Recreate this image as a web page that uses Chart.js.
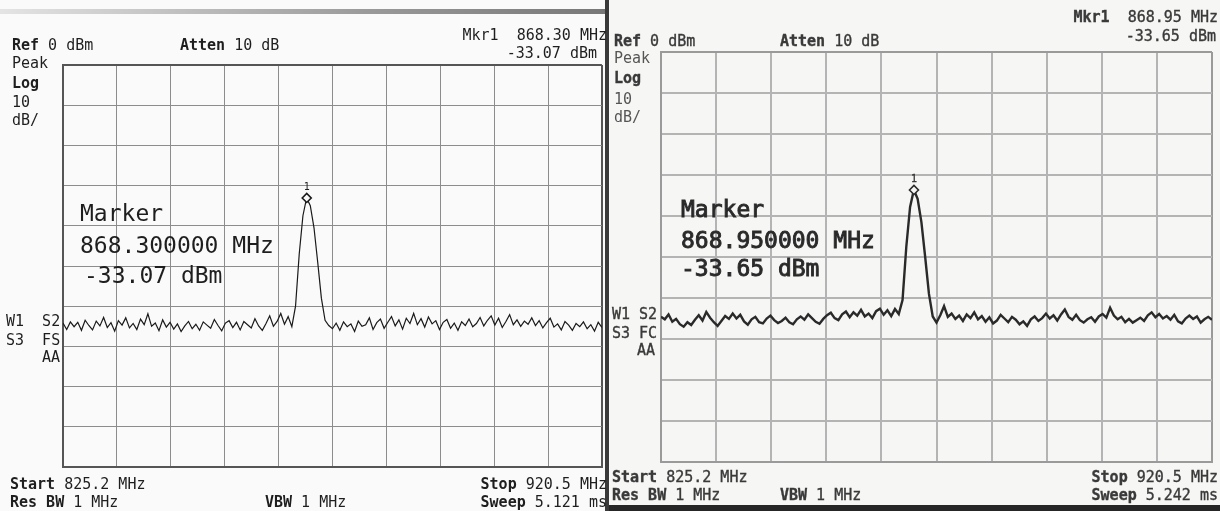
<!DOCTYPE html>
<html>
<head>
<meta charset="utf-8">
<script src="https://cdn.jsdelivr.net/npm/chart.js@4.4.0/dist/chart.umd.min.js"></script>
<style>
  html, body { margin:0; padding:0; background:#fff; }
  #wrap { position:relative; width:1220px; height:511px; overflow:hidden; background:#fafafa;
          font-family:"DejaVu Sans Mono", monospace; }
  .pane { position:absolute; top:0; height:511px; }
  #paneL { left:0; width:608px; background:#fafafa; }
  #paneR { left:610px; width:610px; background:#f6f6f5; }
  canvas { position:absolute; left:0; top:0; }
  .t { position:absolute; white-space:pre; font-size:15px; line-height:1; transform:translateY(-50%); color:#1e1e1e; }
  .tr { color:#3a3a3a; -webkit-text-stroke:0.35px #3a3a3a; }
  .big { font-size:23px; }
  .tr.big { -webkit-text-stroke:0.9px #2a2a2a; color:#2a2a2a; }
  .mk { font-size:10px; transform:translate(-50%,-50%); }
</style>
</head>
<body>
<div id="wrap">
  <div class="pane" id="paneL"><canvas id="chartL" width="608" height="511"></canvas></div>
  <div class="pane" id="paneR"><canvas id="chartR" width="610" height="511"></canvas></div>

  <!-- photo edges -->
  <div style="position:absolute;left:0;top:9px;width:608px;height:5px;background:linear-gradient(to right,#e4e4e4,#9a9a9a 60%,#777);"></div>
  <div style="position:absolute;left:605px;top:0;width:4px;height:511px;background:#3a3a3a;"></div>
  <div style="position:absolute;left:609px;top:505px;width:611px;height:6px;background:#262626;"></div>

  <!-- left screen texts -->
  <div class="t" style="right:613px;top:35px;">Mkr1  868.30 MHz</div>
  <div class="t" style="right:623px;top:53px;">-33.07 dBm</div>
  <div class="t" style="left:12px;top:45px;"><b>Ref</b> 0 dBm</div>
  <div class="t" style="left:180px;top:45px;"><b>Atten</b> 10 dB</div>
  <div class="t" style="left:12px;top:63px;">Peak</div>
  <div class="t" style="left:12px;top:83px;"><b>Log</b></div>
  <div class="t" style="left:12px;top:102px;">10</div>
  <div class="t" style="left:12px;top:120px;">dB/</div>
  <div class="t" style="left:6px;top:321px;">W1  S2</div>
  <div class="t" style="left:6px;top:340px;">S3  FS</div>
  <div class="t" style="left:42px;top:357px;">AA</div>
  <div class="t big" style="left:80px;top:213px;">Marker</div>
  <div class="t big" style="left:80px;top:245px;">868.300000 MHz</div>
  <div class="t big" style="left:84px;top:275px;">-33.07 dBm</div>
  <div class="t" style="left:10px;top:484px;"><b>Start</b> 825.2 MHz</div>
  <div class="t" style="right:613px;top:484px;"><b>Stop</b> 920.5 MHz</div>
  <div class="t" style="left:10px;top:502px;"><b>Res BW</b> 1 MHz</div>
  <div class="t" style="left:265px;top:502px;"><b>VBW</b> 1 MHz</div>
  <div class="t" style="right:613px;top:502px;"><b>Sweep</b> 5.121 ms</div>
  <div class="t mk" id="mkL">1</div>

  <!-- right screen texts -->
  <div class="t tr" style="right:2px;top:17px;"><b>Mkr1</b>  868.95 MHz</div>
  <div class="t tr" style="right:4px;top:36px;">-33.65 dBm</div>
  <div class="t tr" style="left:614px;top:41px;"><b>Ref</b> 0 dBm</div>
  <div class="t tr" style="left:780px;top:41px;"><b>Atten</b> 10 dB</div>
  <div class="t" style="left:614px;top:58px;color:#555;">Peak</div>
  <div class="t tr" style="left:614px;top:78px;"><b>Log</b></div>
  <div class="t" style="left:614px;top:99px;color:#555;">10</div>
  <div class="t" style="left:614px;top:117px;color:#555;">dB/</div>
  <div class="t tr" style="left:612px;top:314px;">W1 S2</div>
  <div class="t tr" style="left:612px;top:333px;">S3 FC</div>
  <div class="t tr" style="left:637px;top:350px;">AA</div>
  <div class="t tr big" style="left:681px;top:209px;">Marker</div>
  <div class="t tr big" style="left:681px;top:240px;">868.950000 MHz</div>
  <div class="t tr big" style="left:681px;top:268px;">-33.65 dBm</div>
  <div class="t tr" style="left:612px;top:477px;"><b>Start</b> 825.2 MHz</div>
  <div class="t tr" style="right:2px;top:477px;"><b>Stop</b> 920.5 MHz</div>
  <div class="t tr" style="left:612px;top:495px;"><b>Res BW</b> 1 MHz</div>
  <div class="t tr" style="left:780px;top:495px;"><b>VBW</b> 1 MHz</div>
  <div class="t tr" style="right:2px;top:495px;"><b>Sweep</b> 5.242 ms</div>
  <div class="t tr mk" id="mkR">1</div>
</div>

<script>
// sweep settings (both screens)
var startMHz = 825.2;
var stopMHz = 920.5;
var refDbm = 0;
var dbPerDiv = 10;
var divisions = 10;

// trace levels in dBm, evenly spaced sweep points
var traceLeft = [
  -64.2,-65.8,-63.9,-65.1,-64.0,-66.0,-63.5,-64.8,-65.9,-63.7,
  -64.9,-62.8,-65.3,-64.1,-66.2,-63.6,-64.7,-62.9,-65.4,-64.3,
  -65.8,-63.2,-64.6,-61.9,-65.0,-64.2,-66.1,-63.4,-65.2,-64.0,
  -65.7,-64.4,-66.3,-64.9,-63.8,-65.6,-64.5,-66.0,-63.9,-64.7,
  -65.5,-63.3,-64.8,-66.1,-64.2,-63.6,-65.3,-64.0,-65.9,-63.8,
  -64.6,-65.4,-63.1,-64.9,-66.0,-64.3,-62.4,-65.0,-63.8,-61.8,
  -64.5,-62.6,-65.1,
  -60.0,-47.0,-37.5,-33.07,-35.0,-40.5,-49.0,-58.0,-63.5,
  -64.8,-65.6,-64.2,-66.0,-63.9,-65.1,-64.4,-66.3,
  -63.7,-65.0,-64.6,-62.9,-65.8,-64.1,-63.2,-65.5,-64.0,-62.6,
  -64.9,-63.4,-65.7,-63.0,-64.3,-61.8,-64.6,-63.1,-65.2,-62.7,
  -64.4,-63.6,-65.8,-64.0,-63.3,-65.5,-64.2,-66.0,-63.9,-64.8,
  -63.2,-65.1,-64.3,-62.8,-64.9,-63.5,-62.4,-64.7,-63.0,-65.3,
  -63.8,-62.1,-64.6,-63.4,-65.0,-63.7,-64.5,-62.9,-64.8,-63.6,
  -65.4,-64.1,-63.0,-65.2,-64.4,-65.9,-63.8,-64.7,-66.0,-64.3,
  -65.1,-63.9,-65.6,-64.6,-66.2,-64.0,-65.3
];

var traceRight = [
  -64.6,-65.2,-64.0,-65.8,-65.1,-66.4,-67.0,-65.9,-66.6,-65.3,
  -64.2,-65.5,-63.4,-64.8,-65.9,-66.8,-65.6,-64.4,-65.1,-63.8,
  -65.0,-64.1,-65.7,-66.5,-65.2,-64.6,-65.9,-66.2,-65.0,-64.3,
  -65.4,-66.1,-65.6,-64.8,-65.9,-66.4,-65.2,-64.5,-65.3,-64.0,
  -64.9,-65.8,-66.3,-65.1,-64.2,-63.6,-64.9,-65.4,-64.0,-63.3,
  -64.7,-63.5,-64.3,-62.9,-64.5,-63.8,-64.9,-63.2,-62.6,-64.1,
  -63.0,-64.4,-62.7,-63.9,
  -60.5,-47.5,-37.8,-33.65,-35.8,-41.5,-50.0,-59.0,-64.5,
  -66.0,-64.2,-62.0,-64.6,-63.8,-65.1,-64.3,
  -65.6,-64.0,-64.9,-63.5,-65.2,-64.4,-65.8,-64.7,-66.2,-65.5,
  -64.1,-65.0,-65.9,-64.6,-65.3,-66.4,-65.7,-66.8,-65.2,-64.5,
  -65.6,-64.9,-63.8,-65.0,-64.2,-65.5,-64.0,-62.8,-64.6,-65.3,
  -64.1,-65.4,-66.0,-65.2,-64.7,-65.8,-64.5,-63.9,-64.8,-62.4,
  -64.3,-65.2,-64.6,-65.9,-65.1,-66.0,-65.4,-64.8,-65.6,-64.2,
  -63.5,-64.7,-63.9,-65.0,-64.4,-65.3,-64.1,-65.7,-66.2,-65.0,
  -64.3,-65.1,-64.5,-66.0,-65.2,-64.6,-65.3
];

// marker 1 readouts
var markerFreqs = [868.30, 868.95];
var markerLevels = [-33.07, -33.65];

function sweepPoints(levels) {
  var step = (stopMHz - startMHz) / (levels.length - 1);
  return levels.map(function (v, i) { return { x: startMHz + i * step, y: v }; });
}

function drawScreen(id, levels, mIdx, look) {
  var ctx = document.getElementById(id).getContext('2d');
  var lineW = function (c) {
    return (c.index === 0 || c.index === divisions) ? look.edgeW : look.gridW;
  };
  var lineC = function (c) {
    return (c.index === 0 || c.index === divisions) ? look.edge : look.grid;
  };
  return new Chart(ctx, {
    type: 'line',
    data: {
      datasets: [{
        data: sweepPoints(levels),
        borderColor: look.trace,
        borderWidth: look.traceW,
        pointRadius: 0,
        tension: 0,
        order: 2
      }, {
        data: [{ x: markerFreqs[mIdx], y: markerLevels[mIdx] }],
        showLine: false,
        pointStyle: 'rectRot',
        pointRadius: 4.5,
        pointBackgroundColor: look.bg,
        pointBorderColor: look.trace,
        pointBorderWidth: 1.6,
        order: 1
      }]
    },
    options: {
      responsive: false,
      animation: false,
      events: [],
      layout: { padding: look.pad },
      plugins: { legend: { display: false }, tooltip: { enabled: false } },
      scales: {
        x: {
          type: 'linear', min: startMHz, max: stopMHz,
          afterBuildTicks: function (s) {
            var t = [];
            for (var i = 0; i <= divisions; i++) t.push({ value: startMHz + i * (stopMHz - startMHz) / divisions });
            s.ticks = t;
          },
          ticks: { display: false },
          grid: { color: lineC, lineWidth: lineW, drawTicks: false },
          border: { color: look.edge, width: look.edgeW }
        },
        y: {
          min: refDbm - dbPerDiv * divisions, max: refDbm,
          ticks: { display: false, stepSize: dbPerDiv },
          grid: { color: lineC, lineWidth: lineW, drawTicks: false },
          border: { color: look.edge, width: look.edgeW }
        }
      }
    },
    plugins: [{
      id: 'mkLabel',
      afterRender: function (chart) {
        var p = chart.getDatasetMeta(1).data[0];
        var el = document.getElementById(look.label);
        el.style.left = (look.offset + p.x) + 'px';
        el.style.top = (p.y - 11) + 'px';
      }
    }]
  });
}

var chartLeft = drawScreen('chartL', traceLeft, 0, {
  pad: { left: 63, top: 65, right: 5, bottom: 44 },
  grid: '#8c8c8c', gridW: 1, edge: '#555', edgeW: 2,
  trace: '#1a1a1a', traceW: 1.2, bg: '#fafafa', label: 'mkL', offset: 0
});

var chartRight = drawScreen('chartR', traceRight, 1, {
  pad: { left: 51, top: 52, right: 8, bottom: 49 },
  grid: '#b4b4b4', gridW: 2, edge: '#9a9a9a', edgeW: 2,
  trace: '#2a2a2a', traceW: 2.4, bg: '#f6f6f5', label: 'mkR', offset: 610
});
</script>
</body>
</html>
